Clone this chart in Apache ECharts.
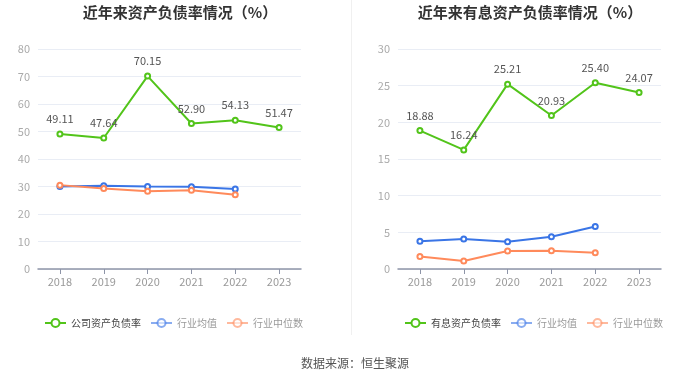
<!DOCTYPE html>
<html><head><meta charset="utf-8">
<script src="https://cdn.jsdelivr.net/npm/echarts@6/dist/echarts.min.js"></script>
<style>html,body{margin:0;padding:0;background:#fff}#c{width:700px;height:378px}</style>
</head><body><div id="c"></div>
<script>
var years = ['2018','2019','2020','2021','2022','2023'];
var companyDebt = [49.11, 47.64, 70.15, 52.90, 54.13, 51.47];
var industryAvgL = [30.0, 30.3, 30.0, 29.9, 29.1];
var industryMedL = [30.5, 29.3, 28.3, 28.6, 27.0];
var interestDebt = [18.88, 16.24, 25.21, 20.93, 25.40, 24.07];
var industryAvgR = [3.8, 4.1, 3.7, 4.4, 5.8];
var industryMedR = [1.7, 1.1, 2.45, 2.5, 2.2];
var yTicksL = [0, 80, 10];
var yTicksR = [0, 30, 5];

var GREEN = '#52c41a', BLUE = '#3a75e6', ORANGE = '#ff8a5b';
var font = '"Noto Sans CJK SC", "Noto Sans", sans-serif';
var chart = echarts.init(document.getElementById('c'));

function xAxis(i){
  return {type:'category', gridIndex:i, data:years, boundaryGap:true,
    axisLine:{lineStyle:{color:'#8e95a8', width:1.5}}, axisTick:{show:true, alignWithLabel:true, lineStyle:{color:'#8e95a8'}},
    axisLabel:{color:'#999', fontSize:11, margin:7, fontFamily:font}};
}
function yAxis(i, t){
  return {type:'value', gridIndex:i, min:t[0], max:t[1], interval:t[2],
    axisLine:{show:false}, axisTick:{show:false},
    splitLine:{lineStyle:{color:'#e9edf5'}},
    axisLabel:{color:'#aaa', fontSize:11, margin:8, fontFamily:font}};
}
function line(name, data, color, i, label){
  return {name:name, type:'line', xAxisIndex:i, yAxisIndex:i, data:data,
    symbol:'emptyCircle', symbolSize:5, showAllSymbol:true,
    lineStyle:{color:color, width:2}, itemStyle:{color:color, borderWidth:1.5},
    label:{show:!!label, position:'top', color:'#555', fontSize:11, distance:6, fontFamily:font,
      formatter:function(p){return p.value.toFixed(2);}}};
}
function legend(left, names){
  return {top:318, left:left, itemWidth:21, itemHeight:10, itemGap:9, padding:0,
    data:names.map(function(n, k){
      return {name:n, textStyle:{color: k===0 ? '#444' : '#999', fontSize:10, fontFamily:font},
        itemStyle: k===0 ? {borderWidth:2} : {opacity:0.6, borderWidth:2}, lineStyle: k===0 ? {} : {opacity:0.6}};
    })};
}

chart.setOption({
  animation:false,
  textStyle:{fontFamily:font},
  title:[
    {text:'近年来资产负债率情况（%）', left:175, textAlign:'center', top:0, textStyle:{fontSize:15, fontWeight:'bold', color:'#333', fontFamily:font}},
    {text:'近年来有息资产负债率情况（%）', left:525, textAlign:'center', top:0, textStyle:{fontSize:15, fontWeight:'bold', color:'#333', fontFamily:font}},
    {text:'数据来源：恒生聚源', left:350, textAlign:'center', top:352, textStyle:{fontSize:12, fontWeight:'normal', color:'#555', fontFamily:font}}
  ],
  graphic:[{type:'rect', shape:{x:351, y:0, width:1, height:335}, style:{fill:'#f0f0f0'}}],
  legend:[legend(44, ['公司资产负债率','行业均值','行业中位数']), legend(404, ['有息资产负债率','行业均值','行业中位数'])],
  grid:[{left:38, top:49, width:263, height:220}, {left:398, top:49, width:263, height:220}],
  xAxis:[xAxis(0), xAxis(1)],
  yAxis:[yAxis(0, yTicksL), yAxis(1, yTicksR)],
  series:[
    line('公司资产负债率', companyDebt, GREEN, 0, true),
    line('行业均值', industryAvgL, BLUE, 0),
    line('行业中位数', industryMedL, ORANGE, 0),
    line('有息资产负债率', interestDebt, GREEN, 1, true),
    line('行业均值', industryAvgR, BLUE, 1),
    line('行业中位数', industryMedR, ORANGE, 1)
  ]
});
</script></body></html>
